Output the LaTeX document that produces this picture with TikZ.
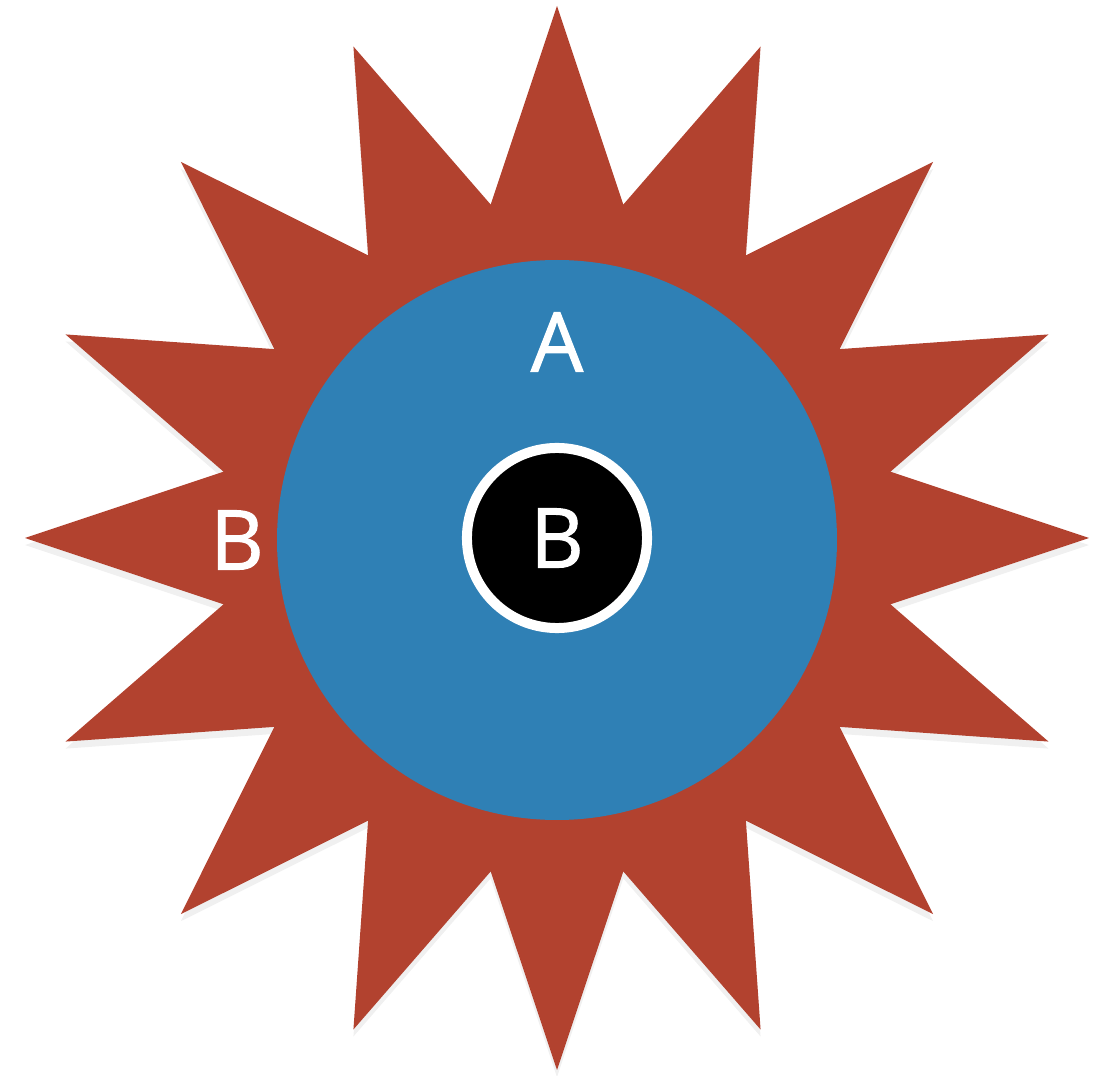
\documentclass[tikz,border=0pt]{standalone}
\usepackage{fontspec}
\newfontfamily\labelfont{Open Sans}[FakeBold=1.3]
\usetikzlibrary{shadows}
\definecolor{brick}{RGB}{178,66,47}
\definecolor{ocean}{RGB}{47,128,181}

\begin{document}
\begin{tikzpicture}[x=0.01cm, y=-0.01cm,
      every node/.style={font=\labelfont\fontsize{23.5}{28}\selectfont, text=white},
      sunray/.style={fill=brick, drop shadow={opacity=0.12, shadow xshift=0pt, shadow yshift=-2pt}},
      disc/.style={fill=ocean},
      core/.style={circle, fill=black, draw=white, line width=0.1cm,
                   inner sep=0pt, minimum size=1.8cm}]
    \useasboundingbox (0,0) rectangle (1108,1076);
    % outer star, 16 points
    \path[sunray] (557,6)
      \foreach \k in {0,...,15} {
        -- ({557+532*cos(90-22.5*\k)}, {538-532*sin(90-22.5*\k)})
        -- ({557+340*cos(90-22.5*\k-11.25)}, {538-340*sin(90-22.5*\k-11.25)})
      } -- cycle;
    \fill[disc] (557,540) circle[radius=280];
    \node[core] (inner) at (557,538) {B};
    \node (top) at (557,342) {A};
    \node (side) at (237,540) {B};
  \end{tikzpicture}
\end{document}
